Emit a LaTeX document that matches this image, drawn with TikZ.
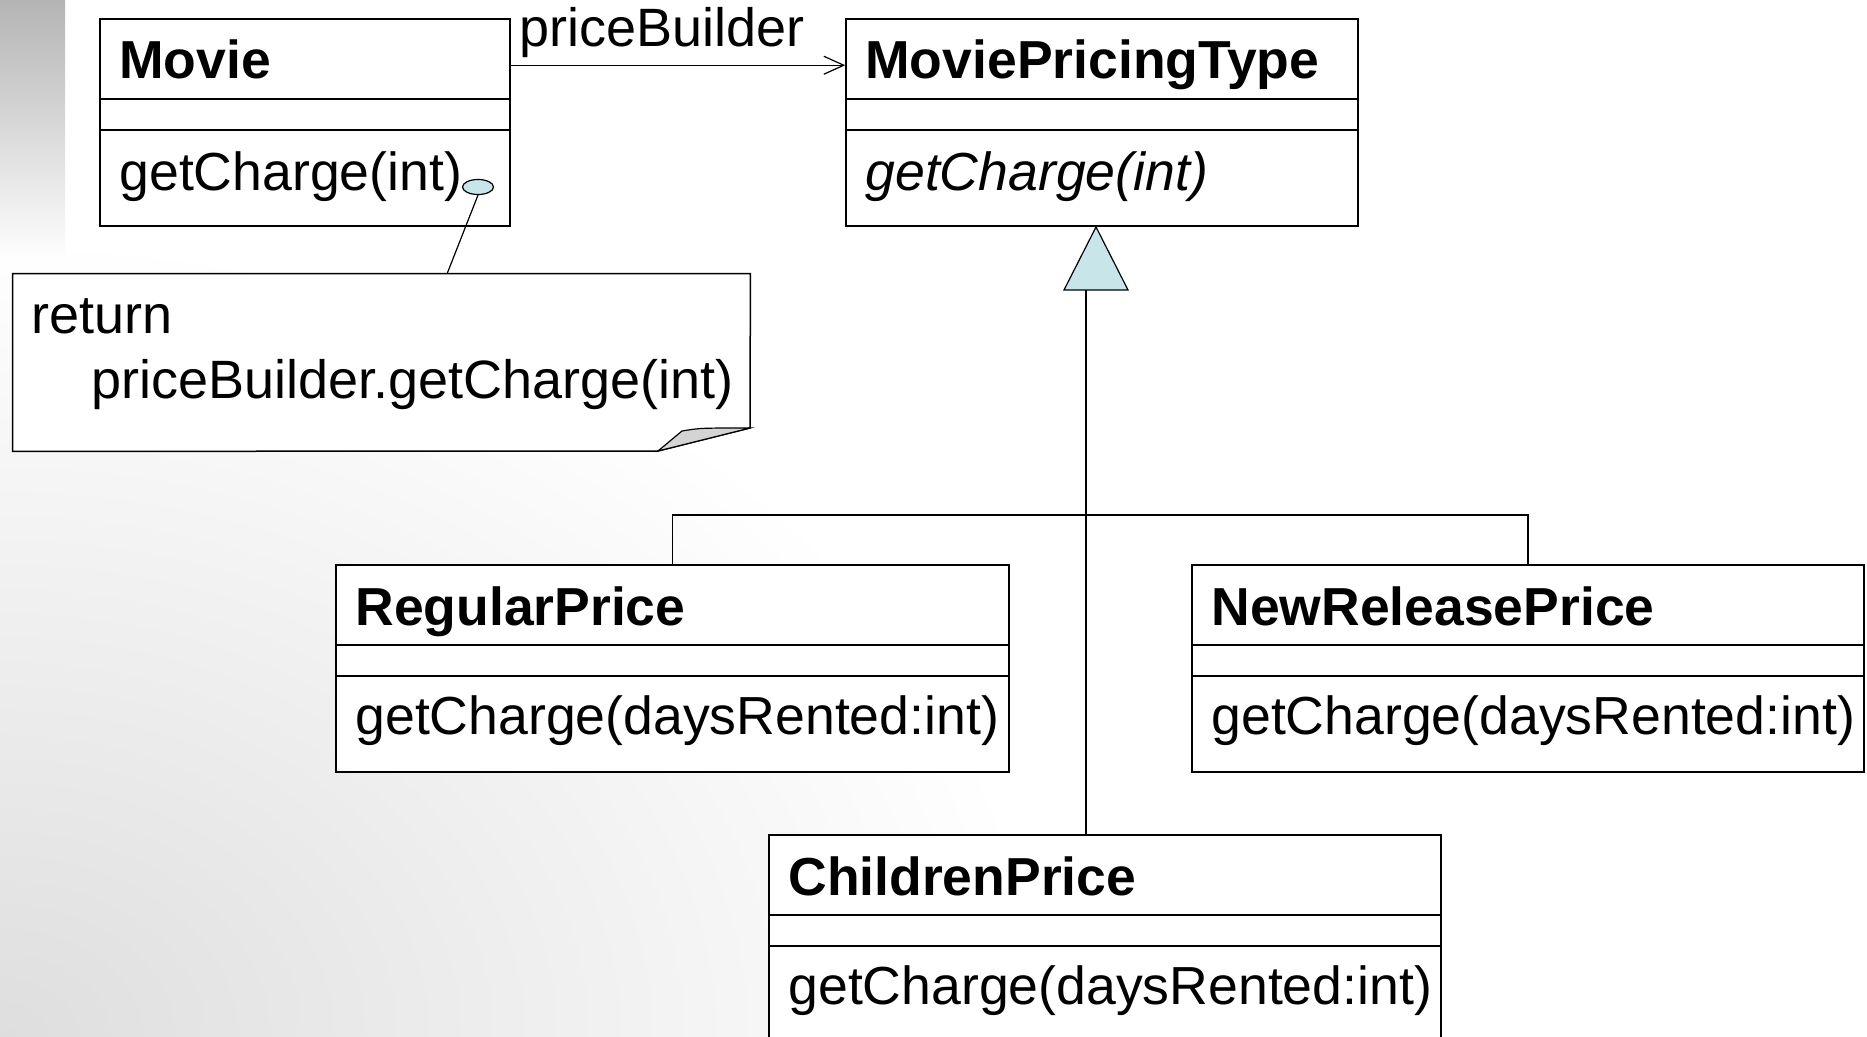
\documentclass[tikz,border=0pt]{standalone}
\usepackage{fontspec}
\setmainfont{Liberation Sans}
\usetikzlibrary{arrows.meta,fit,shapes.geometric}
\definecolor{umlcyan}{RGB}{200,230,234}
\definecolor{foldgray}{RGB}{212,212,212}
\definecolor{bgdark}{RGB}{222,222,222}
\definecolor{bartop}{RGB}{180,180,180}
\newcommand{\umlclass}[7]{%
  \node[clsbox, fit={(#2,#3) ({#2+#4},{#3+207})}] (#1) {};
  \draw[divline] ({#2},{#3+80}) -- ({#2+#4},{#3+80});
  \draw[divline] ({#2},{#3+111}) -- ({#2+#4},{#3+111});
  \node[ttl] (#1-t) at ({#2+19},{#3+60}) {#5};
  \node[mtxt] (#1-m) at ({#2+19},{#3+#7}) {#6};
}
\begin{document}
\begin{tikzpicture}[x=0.5pt,y=-0.5pt,
  txt/.style={inner sep=0pt, anchor=base west, font=\fontsize{27}{32}\selectfont},
  mtxt/.style={txt, font=\fontsize{26.8}{32}\selectfont},
  ttl/.style={txt, font=\fontsize{26.75}{32}\selectfont\bfseries},
  clsbox/.style={draw=black, line width=0.75pt, fill=white, inner sep=0pt},
  divline/.style={draw=black, line width=0.75pt},
  conn/.style={draw=black, line width=0.6pt},
  assoc/.style={conn, -{Straight Barb[length=10pt,width=9pt,line width=0.6pt]}},
]
\useasboundingbox (0,0) rectangle (1867,1037);
\clip (0,0) rectangle (1867,1037);
% background
\fill[white] (0,0) rectangle (1867,1037);
\shade[inner color=bgdark, outer color=white] (0,1037) ellipse [x radius=1050, y radius=800];
\shade[top color=bartop, bottom color=white] (0,0) rectangle (65,262);

% classes
\umlclass{movie}{100}{19}{410}{Movie}{getCharge(int)}{172}
\umlclass{mpt}{846}{19}{512}{MoviePricingType}{\itshape getCharge(int)}{172}
\umlclass{rp}{336}{565}{673}{RegularPrice}{getCharge(daysRented:int)}{169}
\umlclass{nrp}{1192}{565}{672}{NewReleasePrice}{getCharge(daysRented:int)}{169}
\umlclass{cp}{769}{835}{672}{ChildrenPrice}{getCharge(daysRented:int)}{169}

% association
\draw[assoc] ([yshift=-23.5pt]movie.north east) -- ([yshift=-23.5pt]mpt.north west);
\node[txt] (pblabel) at (519,47) {priceBuilder};

% generalization
\coordinate (tribase) at (1086,290);
\coordinate (junction) at (1086,515);
\draw[conn] (tribase) -- (tribase |- cp.north);
\draw[conn] (rp.north) -- (rp.north |- junction) -- (nrp.north |- junction) -- (nrp.north);
\draw[conn, fill=umlcyan] (1096,227) -- (1128,290) -- (1064,290) -- cycle;

% note
\node[inner sep=0pt, fit={(13,274) (750,451)}] (note) {};
\coordinate (notetop) at (447,274);
\node[ellipse, draw=black, line width=0.6pt, fill=umlcyan, minimum width=15.5pt, minimum height=7.5pt, inner sep=0pt] (anch) at (478,187) {};
\draw[conn] (anch.south) -- (notetop);
\filldraw[fill=white, line width=0.75pt] (note.north west) -- (note.north east) -- (750,428) -- (658,451) -- (note.south west) -- cycle;
\filldraw[fill=foldgray, line width=0.6pt] (658,451) -- (682,431) .. controls (700,428) .. (750,428) -- cycle;
\node[txt] (ret) at (31,334) {return};
\node[txt] (retexpr) at (91,399) {priceBuilder.getCharge(int)};
\end{tikzpicture}
\end{document}
